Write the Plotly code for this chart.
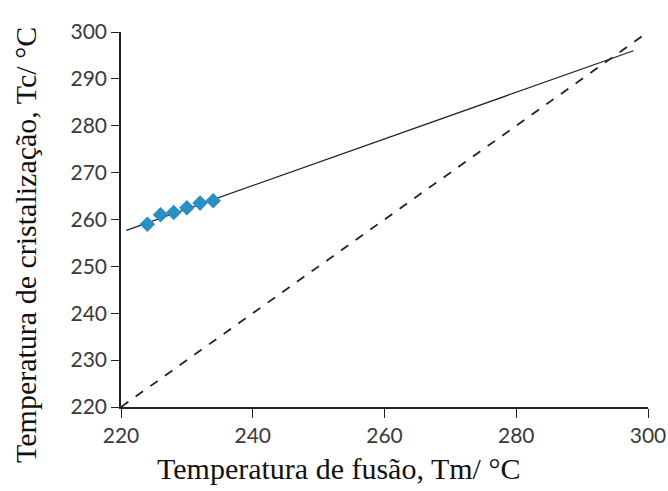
import plotly.graph_objects as go

tm = [224, 226, 228, 230, 232, 234]
tc = [259, 261, 261.5, 262.5, 263.5, 264]
fit_x = [220.8, 297.8]
fit_y = [257.7, 296.0]
eq_x = [220, 300]
eq_y = [220, 300]
x_title = "Temperatura de fusão, Tm/ °C"
y_title = "Temperatura de cristalização, Tc/ °C"

W, H = 668, 491

fig = go.Figure()
fig.add_trace(go.Scatter(x=eq_x, y=eq_y, mode="lines",
                         line=dict(color="#222222", width=1.8, dash="dash"), showlegend=False))
fig.add_trace(go.Scatter(x=fit_x, y=fit_y, mode="lines",
                         line=dict(color="#222222", width=1.3), showlegend=False))
fig.add_trace(go.Scatter(x=tm, y=tc, mode="markers",
                         marker=dict(symbol="diamond", size=12, color="#2a8fc4",
                                     line=dict(width=0)), showlegend=False))

tickfont = dict(family="Lato, Open Sans, sans-serif", size=21, color="#3a3a3a")
titlefont = dict(family="Liberation Serif, serif", size=30, color="#111111")

fig.update_layout(
    width=W, height=H,
    margin=dict(l=121, r=20, t=32, b=84),
    plot_bgcolor="white", paper_bgcolor="white",
    xaxis=dict(range=[220, 300], tickvals=[220, 240, 260, 280, 300], automargin=False,
               showgrid=False, zeroline=False, showline=True, linecolor="#222222", linewidth=1.5,
               ticks="outside", ticklen=9, tickcolor="#222222", tickfont=tickfont),
    yaxis=dict(range=[220, 300], tickvals=list(range(220, 301, 10)), automargin=False,
               showgrid=False, zeroline=False, showline=True, linecolor="#222222", linewidth=1.5,
               ticks="outside", ticklen=8, tickcolor="#222222", tickfont=tickfont),
    annotations=[
        dict(text=x_title, xref="paper", yref="paper", x=(338 - 121) / (W - 141),
             y=-(468 - 407) / (407 - 32), xanchor="center", yanchor="middle",
             showarrow=False, font=titlefont),
        dict(text=y_title, xref="paper", yref="paper", x=-(121 - 25) / (W - 141),
             y=(407 - 245) / (407 - 32), xanchor="center", yanchor="middle",
             textangle=-90, showarrow=False, font=titlefont),
    ],
)
fig.write_html("out.html")
